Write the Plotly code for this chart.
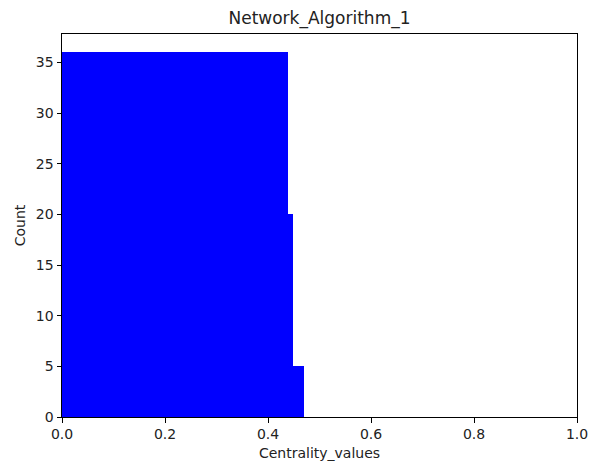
import plotly.graph_objects as go

# Histogram data (bin edges and counts)
bin_edges = [0.0, 0.438, 0.4495, 0.469]
counts = [36, 20, 5]
x_ticks = [0.0, 0.2, 0.4, 0.6, 0.8, 1.0]
y_ticks = [0, 5, 10, 15, 20, 25, 30, 35]

centers = [(bin_edges[i] + bin_edges[i + 1]) / 2 for i in range(len(counts))]
widths = [bin_edges[i + 1] - bin_edges[i] for i in range(len(counts))]

FONT = "DejaVu Sans"

fig = go.Figure(
    go.Bar(
        x=centers,
        y=counts,
        width=widths,
        marker=dict(color="#0000ff", line=dict(width=0)),
        hoverinfo="x+y",
    )
)

W, H = 595, 466
ml, mr, mt, mb = 62, 18, 34, 48.5

axis_common = dict(
    showline=True,
    linecolor="black",
    linewidth=1,
    mirror=True,
    ticks="outside",
    ticklen=4.5,
    tickwidth=1,
    tickcolor="black",
    showgrid=False,
    zeroline=False,
    tickfont=dict(family=FONT, size=14, color="#222222"),
)

fig.update_layout(
    width=W,
    height=H,
    margin=dict(l=ml, r=mr, t=mt, b=mb, autoexpand=False),
    paper_bgcolor="white",
    plot_bgcolor="white",
    bargap=0,
    showlegend=False,
    title=dict(
        text="Network_Algorithm_1",
        x=(ml + (W - mr)) / 2 / W,
        xanchor="center",
        y=1 - 18 / H,
        yanchor="middle",
        yref="container",
        font=dict(family=FONT, size=17, color="#222222"),
    ),
    xaxis=dict(
        range=[0, 1],
        tickvals=x_ticks,
        ticktext=[f"{v:.1f}" for v in x_ticks],
        title=dict(text="Centrality_values", font=dict(family=FONT, size=14, color="#222222"), standoff=6),
        automargin=False,
        **axis_common,
    ),
    yaxis=dict(
        range=[0, 37.8],
        tickvals=y_ticks,
        ticktext=[str(v) for v in y_ticks],
        title=dict(text="Count", font=dict(family=FONT, size=14, color="#222222"), standoff=6),
        automargin=False,
        **axis_common,
    ),
)

fig.write_html("out.html")
